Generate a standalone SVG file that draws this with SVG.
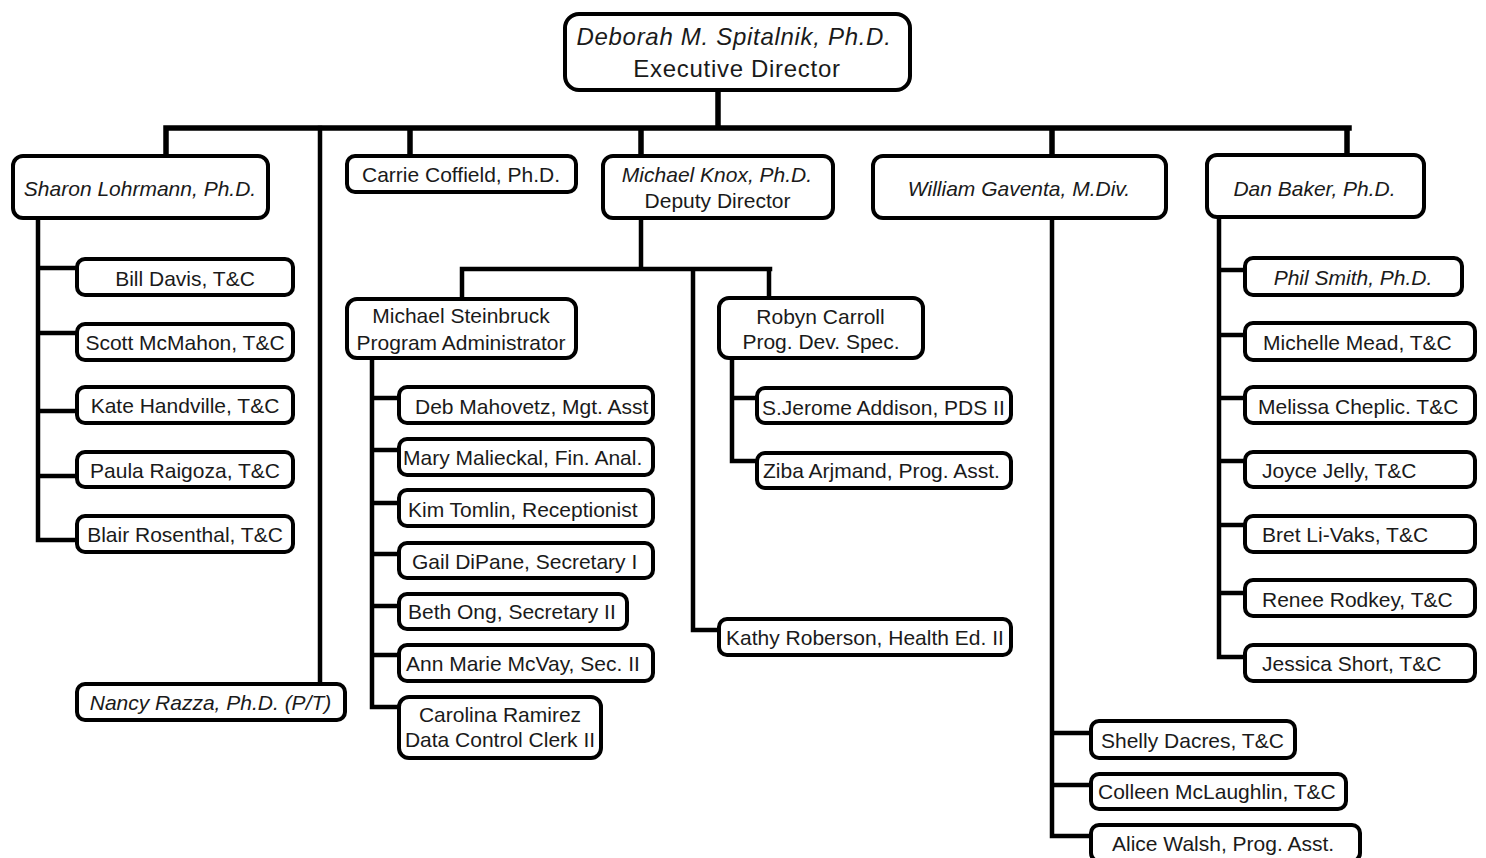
<svg xmlns="http://www.w3.org/2000/svg" width="1486" height="858" viewBox="0 0 1486 858">
<style>
.b{fill:#fff;stroke:#000;stroke-width:4}
.t{font-family:"Liberation Sans",Arial,sans-serif;font-size:21px;fill:#1a1a1a}
.m{text-anchor:middle}
.i{font-style:italic}
.big{font-size:24px;letter-spacing:0.7px}
.c{fill:none;stroke:#000;stroke-width:4.5;stroke-linecap:square;stroke-linejoin:miter}
.cb{stroke-width:5.5}
</style>
<rect width="1486" height="858" fill="#fff"/>
<g id="connectors">
<path class="c cb" d="M718 92V128M166 128H1349M166 128V154M410 128V154M641 128V154M1052 128V154M1347 128V153"/>
<path class="c" d="M320 128V682"/>
<path class="c" d="M38 220V540H75M38 268H75M38 333H75M38 411H75M38 476H75"/>
<path class="c" d="M641 220V269M462 269H770M462 269V297M769 269V296M693 269V630H717"/>
<path class="c" d="M372 360V707H397M372 398H397M372 450H397M372 503H397M372 554H397M372 606H397M372 655H397"/>
<path class="c" d="M732 360V461H755M732 398H755"/>
<path class="c" d="M1052 220V836H1089M1052 733H1089M1052 785H1089"/>
<path class="c" d="M1219 219V657H1243M1219 270H1243M1219 335H1243M1219 398H1243M1219 461H1243M1219 525H1243M1219 593H1243"/>
</g>
<g id="exec"><rect class="b" x="565" y="14" width="345" height="76" rx="14"/><text class="t m i big" x="734" y="45">Deborah M. Spitalnik, Ph.D.</text><text class="t m big" x="737" y="77">Executive Director</text></g>
<g id="sharon"><rect class="b" x="13" y="156" width="255" height="62" rx="10"/><text class="t m i" x="140" y="196">Sharon Lohrmann, Ph.D.</text></g>
<g id="carrie"><rect class="b" x="347" y="156" width="229" height="36" rx="8"/><text class="t m" x="461" y="182">Carrie Coffield, Ph.D.</text></g>
<g id="knox"><rect class="b" x="603" y="156" width="230" height="62" rx="10"/><text class="t m i" x="717" y="182">Michael Knox, Ph.D.</text><text class="t m" x="717.5" y="208">Deputy Director</text></g>
<g id="gaventa"><rect class="b" x="873" y="156" width="293" height="62" rx="10"/><text class="t m i" x="1019" y="196">William Gaventa, M.Div.</text></g>
<g id="baker"><rect class="b" x="1207" y="155" width="217" height="62" rx="10"/><text class="t m i" x="1314.5" y="196">Dan Baker, Ph.D.</text></g>
<g id="bill"><rect class="b" x="77" y="259" width="216" height="36" rx="8"/><text class="t m" x="185" y="286">Bill Davis, T&amp;C</text></g>
<g id="scott"><rect class="b" x="77" y="324" width="216" height="36" rx="8"/><text class="t m" x="185" y="350">Scott McMahon, T&amp;C</text></g>
<g id="kate"><rect class="b" x="77" y="387" width="216" height="36" rx="8"/><text class="t m" x="185" y="413">Kate Handville, T&amp;C</text></g>
<g id="paula"><rect class="b" x="77" y="452" width="216" height="35" rx="8"/><text class="t m" x="185" y="478">Paula Raigoza, T&amp;C</text></g>
<g id="blair"><rect class="b" x="77" y="516" width="216" height="36" rx="8"/><text class="t m" x="185" y="542">Blair Rosenthal, T&amp;C</text></g>
<g id="nancy"><rect class="b" x="77" y="684" width="268" height="36" rx="8"/><text class="t m i" x="210.5" y="710">Nancy Razza, Ph.D. (P/T)</text></g>
<g id="steinbruck"><rect class="b" x="347" y="299" width="229" height="59" rx="10"/><text class="t m" x="461" y="323">Michael Steinbruck</text><text class="t m" x="461" y="350">Program Administrator</text></g>
<g id="robyn"><rect class="b" x="719" y="298" width="204" height="60" rx="10"/><text class="t m" x="820.5" y="324">Robyn Carroll</text><text class="t m" x="821" y="349">Prog. Dev. Spec.</text></g>
<g id="deb"><rect class="b" x="399" y="387" width="254" height="36" rx="8"/><text class="t" x="415" y="414">Deb Mahovetz, Mgt. Asst</text></g>
<g id="mary"><rect class="b" x="399" y="439" width="254" height="36" rx="8"/><text class="t" x="403" y="465">Mary Malieckal, Fin. Anal.</text></g>
<g id="kim"><rect class="b" x="399" y="490" width="254" height="36" rx="8"/><text class="t" x="408" y="517">Kim Tomlin, Receptionist</text></g>
<g id="gail"><rect class="b" x="399" y="543" width="254" height="35" rx="8"/><text class="t" x="412" y="569">Gail DiPane, Secretary I</text></g>
<g id="beth"><rect class="b" x="399" y="594" width="228" height="35" rx="8"/><text class="t" x="408" y="619">Beth Ong, Secretary II</text></g>
<g id="ann"><rect class="b" x="399" y="645" width="254" height="36" rx="8"/><text class="t" x="406" y="671">Ann Marie McVay, Sec. II</text></g>
<g id="carolina"><rect class="b" x="399" y="697" width="202" height="61" rx="10"/><text class="t m" x="500" y="722">Carolina Ramirez</text><text class="t m" x="500" y="747">Data Control Clerk II</text></g>
<g id="jerome"><rect class="b" x="757" y="388" width="254" height="35" rx="8"/><text class="t" x="762" y="415">S.Jerome Addison, PDS II</text></g>
<g id="ziba"><rect class="b" x="757" y="453" width="254" height="35" rx="8"/><text class="t" x="763" y="478">Ziba Arjmand, Prog. Asst.</text></g>
<g id="kathy"><rect class="b" x="719" y="619" width="292" height="36" rx="8"/><text class="t" x="726" y="645">Kathy Roberson, Health Ed. II</text></g>
<g id="shelly"><rect class="b" x="1091" y="721" width="204" height="37" rx="8"/><text class="t" x="1101" y="748">Shelly Dacres, T&amp;C</text></g>
<g id="colleen"><rect class="b" x="1091" y="774" width="255" height="35" rx="8"/><text class="t" x="1098" y="799">Colleen McLaughlin, T&amp;C</text></g>
<g id="alice"><rect class="b" x="1091" y="825" width="269" height="36" rx="8"/><text class="t" x="1112" y="851">Alice Walsh, Prog. Asst.</text></g>
<g id="phil"><rect class="b" x="1245" y="258" width="217" height="37" rx="8"/><text class="t m i" x="1353" y="285">Phil Smith, Ph.D.</text></g>
<g id="michelle"><rect class="b" x="1245" y="323" width="230" height="37" rx="8"/><text class="t" x="1263" y="350">Michelle Mead, T&amp;C</text></g>
<g id="melissa"><rect class="b" x="1245" y="387" width="230" height="36" rx="8"/><text class="t" x="1258" y="414">Melissa Cheplic. T&amp;C</text></g>
<g id="joyce"><rect class="b" x="1245" y="452" width="230" height="35" rx="8"/><text class="t" x="1262" y="478">Joyce Jelly, T&amp;C</text></g>
<g id="bret"><rect class="b" x="1245" y="516" width="230" height="36" rx="8"/><text class="t" x="1262" y="542">Bret Li-Vaks, T&amp;C</text></g>
<g id="renee"><rect class="b" x="1245" y="580" width="230" height="36" rx="8"/><text class="t" x="1262" y="607">Renee Rodkey, T&amp;C</text></g>
<g id="jessica"><rect class="b" x="1245" y="645" width="230" height="36" rx="8"/><text class="t" x="1262" y="671">Jessica Short, T&amp;C</text></g>
</svg>
